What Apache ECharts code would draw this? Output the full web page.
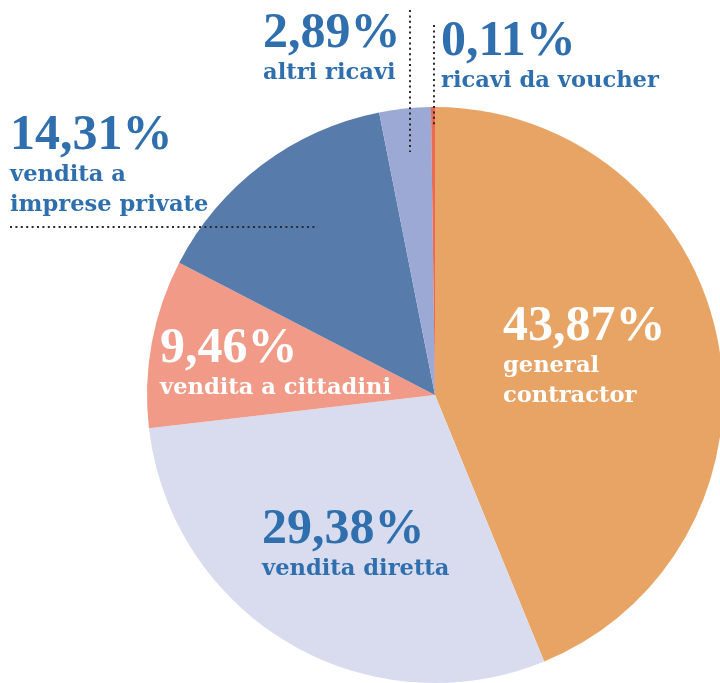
<!DOCTYPE html>
<html>
<head>
<meta charset="utf-8">
<script src="https://cdn.jsdelivr.net/npm/echarts@6/dist/echarts.min.js"></script>
<style>
  html, body { margin: 0; padding: 0; background: #fff; }
  #chart { width: 720px; height: 683px; }
</style>
</head>
<body>
<div id="chart"></div>
<script>
// quote dei ricavi, in senso orario dalle ore 12
var categories = ['general\ncontractor', 'vendita diretta', 'vendita a cittadini', 'vendita a\nimprese private', 'altri ricavi', 'ricavi da voucher'];
var values = [43.87, 29.38, 9.46, 14.31, 2.89, 0.11];
var percentLabels = ['43,87%', '29,38%', '9,46%', '14,31%', '2,89%', '0,11%'];

var colors = ['#E8A465', '#D9DCEE', '#F09A87', '#577BAA', '#9BA9D4', '#EA6A55'];
var textColors = ['#fff', '#2F6FAE', '#fff', '#2F6FAE', '#2F6FAE', '#2F6FAE'];
// angolo in alto a sinistra di ogni etichetta
var labelPos = [[503, 303], [262, 506], [160, 325], [10, 112], [263, 10], [441, 18]];

var numFont = '"Liberation Serif", serif';
var txtFont = '"DejaVu Serif", serif';

var myChart = echarts.init(document.getElementById('chart'));

var data = categories.map(function (c, i) {
    return {
        name: c,
        value: values[i],
        itemStyle: { color: colors[i] },
        label: {
            formatter: '{p|' + percentLabels[i] + '}\n' + c.split('\n').map(function (s) { return '{n|' + s + '}'; }).join('\n'),
            rich: {
                p: { fontFamily: numFont, fontWeight: 'bold', fontSize: 50, lineHeight: 48, color: textColors[i] },
                n: { fontFamily: txtFont, fontWeight: 'bold', fontSize: 22.6, lineHeight: 30, color: textColors[i] }
            }
        }
    };
});

var dotted = { stroke: '#2a2a2a', lineWidth: 2, lineDash: [2, 3.4] };

var option = {
    animation: false,
    series: [{
        type: 'pie',
        center: [435, 395],
        radius: 288,
        startAngle: 90,
        clockwise: true,
        minAngle: 0.8,
        data: data,
        label: { show: true, position: 'inside', align: 'left' },
        labelLine: { show: false },
        labelLayout: function (params) {
            var p = labelPos[params.dataIndex];
            return { x: p[0], y: p[1], align: 'left', verticalAlign: 'top', hideOverlap: false };
        },
        emphasis: { disabled: true }
    }],
    graphic: [
        { type: 'line', shape: { x1: 410, y1: 10, x2: 410, y2: 152 }, style: dotted, z: 10 },
        { type: 'line', shape: { x1: 434, y1: 25, x2: 434, y2: 126 }, style: dotted, z: 10 },
        { type: 'line', shape: { x1: 10, y1: 227, x2: 318, y2: 227 }, style: dotted, z: 10 }
    ]
};
myChart.setOption(option);
</script>
</body>
</html>
